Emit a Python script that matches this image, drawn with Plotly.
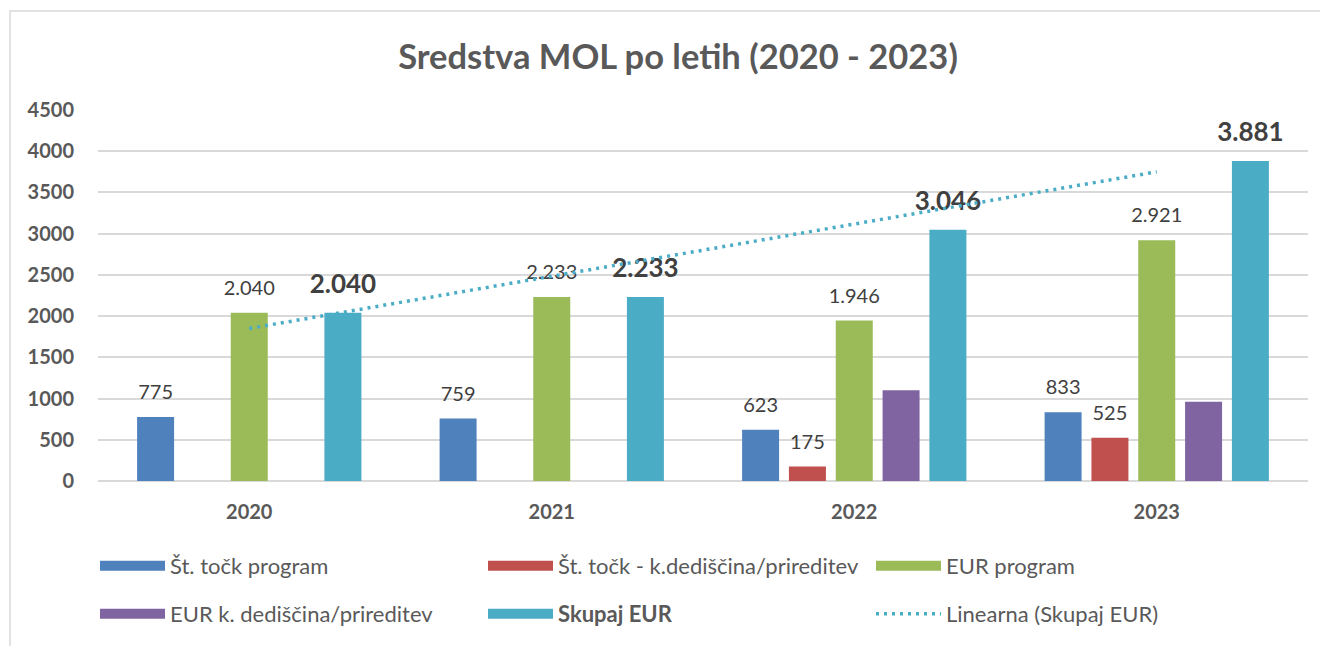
import plotly.graph_objects as go

years = ["2020", "2021", "2022", "2023"]
series_names = [
    "Št. točk program",
    "Št. točk - k.dediščina/prireditev",
    "EUR program",
    "EUR k. dediščina/prireditev",
    "Skupaj EUR",
]
st_tock_program = [775, 759, 623, 833]
st_tock_dediscina = [None, None, 175, 525]
eur_program = [2040, 2233, 1946, 2921]
eur_dediscina = [None, None, 1100, 960]
skupaj_eur = [2040, 2233, 3046, 3881]
trend_name = "Linearna (Skupaj EUR)"
trend_years = ["2020", "2023"]
trend_values = [1850, 3750]
y_ticks = [0, 500, 1000, 1500, 2000, 2500, 3000, 3500, 4000, 4500]

series_values = [st_tock_program, st_tock_dediscina, eur_program, eur_dediscina, skupaj_eur]
colors = ["#4F81BD", "#C0504D", "#9BBB59", "#8064A2", "#4BACC6"]
show_label = [True, True, True, False, True]
bold_label = [False, False, False, False, True]

FONT = "Lato"
OFF = 8  # page body margin
W, H = 1320, 638
L, R, T, B = 90, 20, 102, 165

fig = go.Figure()

# bars
for i, (name, vals, col) in enumerate(zip(series_names, series_values, colors)):
    fig.add_trace(go.Bar(
        x=years, y=vals, name=name, marker=dict(color=col, line=dict(width=0)),
        offsetgroup=str(i), showlegend=False, hoverinfo="skip",
    ))

# data labels (text placed above each bar through grouped scatter)
for i, (vals, show, bold) in enumerate(zip(series_values, show_label, bold_label)):
    if show:
        txt = [None if v is None else f"{v:,}".replace(",", ".") for v in vals]
        if bold:
            txt = [None if t is None else f"<b>{t}</b>" for t in txt]
        fig.add_trace(go.Scatter(
            x=years, y=vals, mode="markers+text", text=txt, textposition="top center",
            marker=dict(size=20 if bold else 19, opacity=0),
            textfont=dict(family=FONT, size=26 if bold else 20, color="#404040"),
            offsetgroup=str(i), showlegend=False, hoverinfo="skip", cliponaxis=False,
        ))
    else:
        fig.add_trace(go.Scatter(x=years, y=[None] * 4, mode="markers", offsetgroup=str(i),
                                 showlegend=False, hoverinfo="skip", marker=dict(opacity=0)))

# trend line (centred on category, same slot as middle series)
fig.add_trace(go.Scatter(
    x=trend_years, y=trend_values, mode="lines", offsetgroup="2",
    line=dict(color="#4BACC6", width=3.5, dash="3px,5px"), showlegend=False, hoverinfo="skip",
))

# legend entries
legend_of = ["legend", "legend", "legend", "legend2", "legend2"]
for i, (name, col) in enumerate(zip(series_names, colors)):
    disp = f"<b>{name}</b>" if bold_label[i] else name
    fig.add_trace(go.Scatter(
        x=[None], y=[None], mode="lines", name=disp, legend=legend_of[i],
        line=dict(color=col, width=14),
    ))
fig.add_trace(go.Scatter(
    x=[None], y=[None], mode="lines", name=trend_name, legend="legend2",
    line=dict(color="#4BACC6", width=3.5, dash="3px,5px"),
))

pw = W - L - R
ph = H - T - B


def sx(p):
    """screen px -> plot paper x"""
    return (p - OFF - L) / pw


def sy(p):
    """screen px -> plot paper y"""
    return (H - B - (p - OFF)) / ph


legend_common = dict(
    orientation="h", xanchor="left", yanchor="middle",
    font=dict(family=FONT, size=22, color="#595959"),
    entrywidth=308, entrywidthmode="pixels", itemwidth=65,
    bgcolor="rgba(0,0,0,0)", itemclick=False, itemdoubleclick=False,
)

fig.update_layout(
    width=W, height=H,
    margin=dict(l=L, r=R, t=T, b=B, autoexpand=False),
    paper_bgcolor="white", plot_bgcolor="white",
    separators=",.",
    barmode="group", bargap=0.226, bargroupgap=0.21,
    scattermode="group",
    title=dict(text="<b>Sredstva MOL po letih (2020 - 2023)</b>", x=(678 - OFF) / W, xanchor="center",
               y=1 - (57 - OFF) / H, yanchor="middle",
               font=dict(family=FONT, size=34.5, color="#595959")),
    xaxis=dict(type="category", categoryorder="array", categoryarray=years,
               showgrid=False, showline=False, ticks="",
               tickfont=dict(family=FONT, size=20, color="#595959", weight="bold"),
               ticklabelstandoff=17),
    yaxis=dict(range=[0, 4500], tickvals=y_ticks, showgrid=True, gridcolor="#D9D9D9", gridwidth=1.5,
               zeroline=True, zerolinecolor="#D9D9D9", zerolinewidth=1.5, showline=False, ticks="",
               tickfont=dict(family=FONT, size=20, color="#595959", weight="bold"),
               ticklabelstandoff=23, tickformat="d"),
    legend=dict(x=sx(95), y=sy(566), **legend_common),
    legend2=dict(x=sx(95), y=sy(614), **legend_common),
    shapes=[dict(type="rect", xref="paper", yref="paper",
                 x0=sx(10), x1=1.2, y0=-0.6, y1=sy(11),
                 line=dict(color="#D9D9D9", width=1.5), fillcolor="rgba(0,0,0,0)", layer="below")],
    showlegend=True,
)

fig.write_html("out.html")
